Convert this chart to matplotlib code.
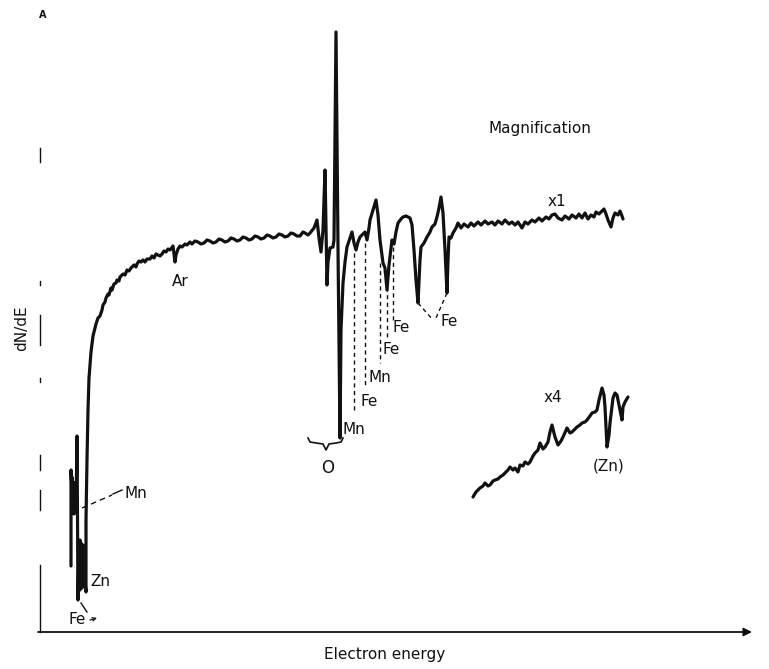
import matplotlib
matplotlib.use("Agg")
import matplotlib.pyplot as plt

plt.rcParams['font.family'] = ['Liberation Sans Narrow', 'DejaVu Sans']

# ---- Data (arbitrary units) ----
# Main spectrum, magnification x1
energy_x1 = [31, 31, 32, 32, 33, 33, 33, 34, 34, 35, 35, 36, 36, 37, 38, 39, 39, 40, 40, 41,
             41, 42, 42, 43, 43, 44, 44, 45, 45, 46, 46, 47, 48, 49, 51, 53,
             56, 58, 60, 62, 63, 65, 66, 68, 69, 71, 72, 74, 76, 77, 79, 80, 82, 83, 85, 87,
             89, 91, 93, 94, 96, 97, 99, 101, 103, 105, 107, 110, 112, 114, 116, 118, 120, 122, 124, 126,
             128, 130, 133, 135, 136, 138, 140, 142, 145, 147, 150, 152, 155, 158, 161, 164, 167, 170, 173, 176,
             179, 182, 185, 188, 191, 194, 197, 200, 203, 206, 209, 212, 215, 218, 221, 224, 227, 230, 233, 236,
             239, 242, 245, 248, 251, 254, 257, 260, 263, 265, 268, 270,
             274, 277, 279, 281, 283,
             285, 287, 288, 290, 293, 294, 296, 298, 300, 301, 303, 305, 307, 310, 312, 314, 316, 318, 320, 323,
             325, 327, 329, 330, 333, 336, 338, 340, 343, 345, 347, 349, 352, 354, 356, 358, 361, 363, 366, 370,
             372, 374, 376, 378, 380, 381, 384, 387, 390, 392, 395, 397, 399, 401, 403, 405, 407, 408, 409, 411,
             413, 416, 418, 421, 424, 428, 431, 434, 438, 441, 445, 448, 452, 455, 458, 462, 465, 469, 472, 475,
             478, 482, 485, 488, 492, 495, 499, 502, 506, 509, 512, 515, 518, 522, 525, 529, 532, 536, 539, 542,
             545, 548, 551, 554, 556, 559, 562, 564, 566, 568, 571, 573, 575, 578, 580, 582, 583]
dNdE_x1 = [66, 162, 140, 155, 125, 150, 130, 145, 118, 138, 122, 132, 120, 196, 32, 84, 60, 92, 42, 80,
           50, 88, 44, 76, 55, 86, 46, 84, 50, 40, 112, 172, 222, 254, 280, 296,
           308, 314, 316, 322, 327, 330, 334, 338, 337, 344, 342, 348, 349, 352, 351, 355, 357, 358, 357, 362,
           361, 364, 366, 367, 365, 368, 371, 370, 372, 370, 373, 373, 376, 374, 378, 377, 376, 378, 381, 380,
           383, 382, 386, 370, 377, 383, 386, 385, 388, 387, 390, 388, 391, 390, 388, 389, 392, 391, 389, 390,
           393, 392, 390, 391, 394, 393, 391, 392, 395, 394, 392, 393, 396, 395, 393, 394, 397, 396, 394, 395,
           398, 397, 395, 396, 399, 398, 396, 396, 400, 399, 397, 399,
           404, 412, 394, 380, 402,
           462, 347, 370, 384, 385, 392, 600, 384, 194, 302, 349, 370, 385, 394, 400, 389, 382, 390, 395, 398,
           400, 392, 404, 412, 422, 432, 417, 392, 369, 364, 342, 367, 392, 388, 400, 409, 413, 415, 416, 414,
           407, 382, 352, 329, 372, 385, 389, 395, 400, 405, 408, 415, 424, 435, 419, 382, 339, 372, 395, 394,
           399, 404, 409, 404, 408, 405, 409, 406, 410, 407, 411, 408, 410, 407, 411, 408, 412, 408, 410, 407,
           410, 404, 410, 408, 412, 410, 414, 411, 415, 413, 417, 418, 414, 412, 416, 413, 417, 414, 418, 414,
           419, 413, 417, 415, 420, 418, 421, 423, 418, 412, 405, 414, 419, 417, 421, 416, 413]

# Magnified segment, x4
energy_x4 = [433, 436, 440, 443, 445, 448, 450, 453, 455, 458, 460, 463, 465, 468, 470, 473, 475, 478, 480, 483,
             485, 488, 490, 493, 495, 498, 500, 503, 505, 508, 510, 512, 515, 518, 521, 523, 527, 530, 532, 535,
             537, 540, 542, 545, 547, 550, 552, 555, 557, 559, 562, 564, 565, 567, 569, 570, 573, 575, 577, 580,
             582, 583, 585, 588]
dNdE_x4 = [135, 140, 144, 146, 149, 146, 147, 151, 152, 153, 155, 157, 159, 162, 165, 162, 164, 160, 167, 166,
           170, 168, 170, 176, 179, 182, 189, 183, 185, 190, 200, 207, 195, 187, 191, 195, 204, 199, 200, 203,
           205, 207, 209, 210, 212, 216, 219, 220, 222, 232, 244, 237, 225, 185, 197, 209, 234, 239, 237, 222,
           212, 225, 230, 235]

# Peak assignment labels
peak_labels = ["Mn", "Fe", "Mn", "Fe", "Fe"]
peak_label_x = [303, 320, 329, 342, 352]
peak_label_y = [202, 230, 255, 282, 304]
# Dashed marker lines from peaks down to labels
marker_x = [314, 325, 340, 347, 353]
marker_top = [379, 389, 369, 345, 385]
marker_bottom = [219, 244, 269, 292, 312]

# ---- Figure ----
fig = plt.figure(figsize=(7.69, 6.69), dpi=100)
ax = fig.add_axes([0, 0, 1, 1])
ax.set_xlim(-40, 729)
ax.set_ylim(-37, 632)
ax.axis('off')

ink = '#111111'
ax.plot(energy_x1, dNdE_x1, color=ink, lw=2.3, solid_joinstyle='round', solid_capstyle='round')
ax.plot(energy_x4, dNdE_x4, color=ink, lw=2.3, solid_joinstyle='round', solid_capstyle='round')

# Axes (drawn as in the original sketch)
ax.annotate('', xy=(712, 0), xytext=(-2, 0),
            arrowprops=dict(arrowstyle='-|>', lw=1.3, color=ink, mutation_scale=12,
                            shrinkA=0, shrinkB=0))
for y0, y1 in [(0, 67), (122, 142), (162, 177), (250, 254), (287, 317), (347, 351), (470, 484)]:
    ax.plot([0, 0], [y0, y1], color=ink, lw=1.0)

fs = 11
ax.text(3, 617, 'A', fontsize=7, fontweight='bold', ha='center', va='center', color=ink)
ax.text(-18, 304, 'dN/dE', fontsize=fs, rotation=90, ha='center', va='center', color=ink)
ax.text(345, -23, 'Electron energy', fontsize=fs, ha='center', va='center', color=ink)
ax.text(500, 504, 'Magnification', fontsize=fs, ha='center', va='center', color=ink)
ax.text(517, 430, 'x1', fontsize=fs, ha='center', va='center', color=ink)
ax.text(513, 235, 'x4', fontsize=fs, ha='center', va='center', color=ink)
ax.text(569, 166, '(Zn)', fontsize=fs, ha='center', va='center', color=ink)
ax.text(140, 350, 'Ar', fontsize=fs, ha='center', va='center', color=ink)

# Low-energy labels
ax.text(84, 139, 'Mn', fontsize=fs, ha='left', va='center', color=ink)
ax.plot([42, 72], [124, 137], color=ink, lw=1.0, ls=(0, (4, 3)))
ax.plot([73, 82], [138, 142], color=ink, lw=1.0)
ax.text(50, 51, 'Zn', fontsize=fs, ha='left', va='center', color=ink)
ax.text(28, 12, 'Fe', fontsize=fs, ha='left', va='center', color=ink)
ax.plot([41, 47], [29, 20], color=ink, lw=1.0)
ax.annotate('', xy=(57, 14), xytext=(50, 12),
            arrowprops=dict(arrowstyle='->', lw=0.9, color=ink, mutation_scale=6,
                            shrinkA=0, shrinkB=0))

# Peak assignment stack
for t, x, y in zip(peak_labels, peak_label_x, peak_label_y):
    ax.text(x, y, t, fontsize=fs, ha='left', va='center', color=ink)
for x, y0, y1 in zip(marker_x, marker_top, marker_bottom):
    ax.plot([x, x], [y0, y1], color=ink, lw=1.0, ls=(0, (3, 2.5)))

# Right-hand Fe pair
ax.text(400, 310, 'Fe', fontsize=fs, ha='left', va='center', color=ink)
ax.plot([378, 393], [329, 312], color=ink, lw=1.0, ls=(0, (3, 2.5)))
ax.plot([407, 396], [339, 314], color=ink, lw=1.0, ls=(0, (3, 2.5)))

# Oxygen brace
ax.plot([268, 270, 276, 283, 286, 289, 296, 301, 303],
        [194, 190, 189, 188, 182, 188, 189, 190, 194], color=ink, lw=1.2)
ax.text(288, 164, 'O', fontsize=fs + 1, ha='center', va='center', color=ink)

fig.savefig('out.png', dpi=100)
